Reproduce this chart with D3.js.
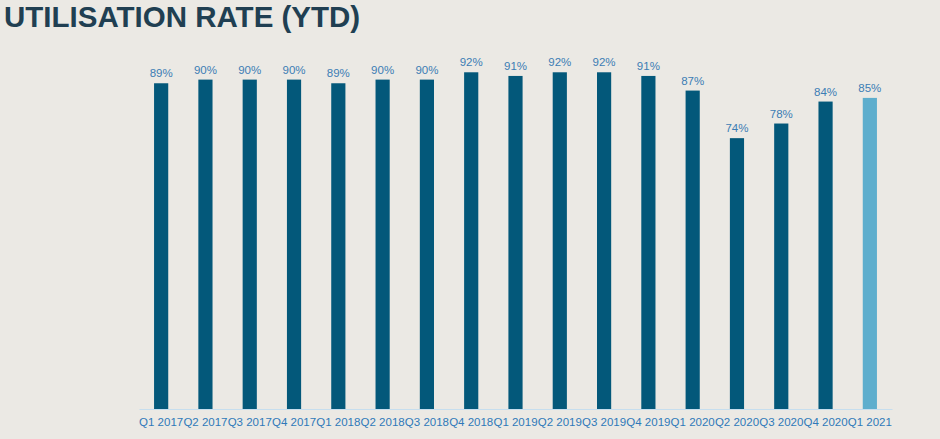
<!DOCTYPE html>
<html>
<head>
<meta charset="utf-8">
<script src="https://cdn.jsdelivr.net/npm/d3@7"></script>
<style>
  html, body { margin: 0; padding: 0; background: #ebe9e4; }
  svg { display: block; }
</style>
</head>
<body>
<svg id="chart" width="940" height="439"></svg>
<script>
const categories = ["Q1 2017","Q2 2017","Q3 2017","Q4 2017","Q1 2018","Q2 2018","Q3 2018","Q4 2018","Q1 2019","Q2 2019","Q3 2019","Q4 2019","Q1 2020","Q2 2020","Q3 2020","Q4 2020","Q1 2021"];
const values = [89,90,90,90,89,90,90,92,91,92,92,91,87,74,78,84,85];
const highlight = ["Q1 2021"];
const title = "UTILISATION RATE (YTD)";

const svg = d3.select("#chart");
svg.append("rect").attr("width", 940).attr("height", 439).attr("fill", "#ebe9e4");

svg.append("text")
  .attr("x", 4).attr("y", 27)
  .attr("font-family", "Liberation Sans, Arial, sans-serif")
  .attr("font-weight", "bold")
  .attr("font-size", 29.5)
  .attr("fill", "#203f52")
  .text(title);

const x = d3.scaleBand().domain(categories).range([139, 892]).paddingInner(0.68).paddingOuter(0.34);
const y = d3.scaleLinear().domain([0, 100]).range([409, 43]);

const data = categories.map((c, i) => ({ c, v: values[i] }));

svg.append("g").selectAll("rect").data(data).join("rect")
  .attr("x", d => x(d.c))
  .attr("width", x.bandwidth())
  .attr("y", d => y(d.v))
  .attr("height", d => y(0) - y(d.v))
  .attr("fill", d => highlight.includes(d.c) ? "#5eaecd" : "#03587a");

svg.append("g").selectAll("text").data(data).join("text")
  .attr("x", d => x(d.c) + x.bandwidth() / 2)
  .attr("y", d => y(d.v) - 6)
  .attr("text-anchor", "middle")
  .attr("font-family", "Liberation Sans, Arial, sans-serif")
  .attr("font-size", 11.5)
  .attr("fill", "#3c7db4")
  .text(d => d.v + "%");

const axis = d3.axisBottom(x).tickSize(0).tickPadding(9);
const ag = svg.append("g").attr("transform", `translate(0,${y(0)})`).call(axis);
ag.select(".domain").attr("stroke", "#c6deee").attr("stroke-width", 1.2);
ag.selectAll("text")
  .attr("font-family", "Liberation Sans, Arial, sans-serif")
  .attr("font-size", 11.5)
  .attr("fill", "#2f79b9");
</script>
</body>
</html>
